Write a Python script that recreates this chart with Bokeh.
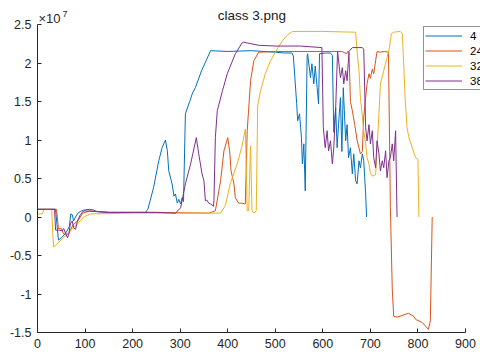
from bokeh.plotting import figure
from bokeh.models import Range1d, FixedTicker, Legend, LegendItem, Label
from bokeh.embed import file_html
from bokeh.resources import INLINE

# values in units of 1e7
s4_x = [0, 38, 41, 44, 50, 58, 63, 67, 70, 73, 76, 80, 85, 90, 97, 110, 118, 125, 150, 200, 227,
        232, 244, 255, 262, 269, 273, 276, 283, 287, 290, 294, 297, 301, 304, 307, 311, 320, 326,
        332, 345, 364, 400, 450, 500, 520, 535, 538, 545, 547, 551, 555, 557, 560, 563, 567, 568,
        574, 577, 581, 584, 588, 591, 593, 605, 616, 620, 623, 627, 630, 633, 637, 640, 643, 648,
        651, 654, 658, 662, 665, 669, 672, 676, 679, 683, 686, 690, 692]
s4_y = [0.1, 0.1, -0.1, -0.3, -0.27, -0.22, -0.17, -0.12, 0.04, 0.03, -0.05, 0.0, 0.05, 0.07, 0.09,
        0.1, 0.09, 0.07, 0.06, 0.06, 0.06, 0.1, 0.38, 0.73, 0.9, 1.0, 0.86, 0.6, 0.43, 0.27, 0.3,
        0.18, 0.23, 0.17, 0.25, 0.2, 1.34, 1.5, 1.61, 1.68, 1.9, 2.16, 2.15, 2.16, 2.14, 2.13, 2.13,
        2.09, 1.47, 1.25, 1.34, 1.03, 0.69, 0.95, 0.34, 2.09, 2.12, 1.81, 1.99, 1.73, 1.96, 1.68,
        1.47, 2.12, 2.13, 2.13, 2.1, 1.1, 1.42, 0.9, 1.2, 1.55, 0.85, 1.68, 0.99, 1.2, 0.77, 0.9,
        0.56, 0.82, 0.47, 0.43, 0.73, 0.64, 0.82, 0.73, 0.3, 0.0]

s24_x = [0, 40, 44, 50, 55, 65, 75, 85, 95, 110, 150, 250, 360, 374, 385, 392, 400, 404, 407, 413,
         416, 423, 430, 435, 437, 441, 448, 455, 465, 500, 550, 600, 640, 650, 652, 655, 658, 662,
         667, 672, 679, 683, 686, 690, 693, 697, 700, 704, 707, 711, 714, 720, 730, 738, 742, 746,
         749, 757, 780, 791, 795, 809, 822, 826, 830]
s24_y = [0.1, 0.1, -0.15, -0.15, -0.22, -0.22, -0.1, -0.05, 0.05, 0.08, 0.06, 0.06, 0.05, 0.08,
         0.47, 0.86, 1.03, 0.86, 0.6, 0.43, 0.25, 0.18, 0.18, 0.17, 0.17, 1.12, 1.77, 2.03, 2.14,
         2.15, 2.15, 2.15, 2.15, 2.12, 2.15, 2.14, 1.5, 1.38, 1.2, 1.0, 0.82, 0.85, 1.3, 1.55, 1.73,
         1.86, 1.8, 1.92, 1.86, 2.03, 2.15, 2.14, 2.15, 2.14, 0.12, -0.94, -1.29, -1.30, -1.25,
         -1.29, -1.33, -1.37, -1.46, -1.35, 0.0]

s32_x = [0, 10, 14, 30, 32, 34, 63, 84, 97, 111, 200, 300, 385, 395, 406, 420, 430, 437, 441, 444,
         448, 451, 455, 460, 463, 469, 479, 490, 504, 515, 525, 536, 600, 669, 672, 676, 679, 686,
         690, 693, 697, 700, 704, 711, 714, 718, 721, 728, 735, 740, 744, 749, 763, 767, 770, 773,
         777, 781, 788, 795, 800, 802]
s32_y = [0.04, 0.04, 0.1, 0.1, -0.2, -0.39, -0.22, -0.09, 0.0, 0.04, 0.05, 0.05, 0.05, 0.15, 0.45,
         0.69, 0.92, 1.14, 0.08, 0.08, 0.92, 0.08, 0.05, 0.08, 1.45, 1.64, 1.86, 2.03, 2.18, 2.29,
         2.36, 2.41, 2.41, 2.4, 2.15, 1.9, 1.55, 1.12, 0.95, 0.77, 0.69, 0.57, 0.53, 0.55, 0.9, 1.34,
         1.73, 1.9, 2.07, 2.2, 2.38, 2.4, 2.41, 2.38, 1.99, 1.55, 1.16, 1.03, 0.9, 0.77, 0.75, 0.0]

s38_x = [0, 36, 38, 45, 52, 55, 63, 66, 69, 73, 76, 80, 84, 90, 97, 150, 250, 290, 301, 311, 322,
         334, 339, 346, 350, 353, 356, 360, 364, 370, 371, 374, 378, 389, 399, 416, 430, 433, 465,
         500, 553, 598, 601, 605, 609, 612, 616, 620, 623, 627, 631, 637, 641, 644, 648, 651, 655,
         662, 683, 686, 690, 693, 697, 700, 704, 707, 711, 714, 718, 721, 725, 728, 732, 735, 739,
         742, 746, 749, 753, 756]
s38_y = [0.1, 0.1, -0.17, -0.17, -0.18, -0.15, -0.27, -0.22, -0.09, -0.05, -0.14, -0.16, -0.05,
         0.03, 0.08, 0.06, 0.06, 0.05, 0.12, 0.43, 0.69, 1.03, 0.82, 0.56, 0.47, 0.21, 0.22, 0.18,
         0.17, 0.14, 0.21, 1.03, 1.38, 1.64, 1.86, 2.12, 2.26, 2.27, 2.23, 2.22, 2.22, 2.2, 1.16,
         0.9, 1.12, 0.86, 0.99, 0.69, 0.9, 1.42, 2.15, 1.81, 1.94, 1.73, 1.9, 1.77, 2.15, 2.2, 2.2,
         2.18, 1.16, 0.99, 1.2, 0.95, 1.12, 0.77, 0.64, 0.99, 0.82, 0.6, 0.73, 0.64, 0.86, 0.51,
         0.73, 0.77, 0.95, 0.73, 1.12, 0.0]

series_names = ["4", "24", "32", "38"]
series_colors = ["#0072BD", "#D95319", "#EDB120", "#7E2F8E"]

x_ticks = [0, 100, 200, 300, 400, 500, 600, 700, 800, 900]
y_ticks = [-1.5, -1, -0.5, 0, 0.5, 1, 1.5, 2, 2.5]
y_tick_labels = ["-1.5", "-1", "-0.5", "0", "0.5", "1", "1.5", "2", "2.5"]

title_text = "class 3.png"
exp_base = "\u00d710"
exp_power = "7"

FONT = "Liberation Sans"
AX = "#262626"

# axes drawn over 0..900 and -1.5..2.5; the frame extends a little further so that
# the title, exponent and legend (which overflows the window) can sit inside it
p = figure(width=480, height=361, output_backend="svg", toolbar_location=None,
           x_range=Range1d(0, 931.5), y_range=Range1d(-1.5, 2.8117),
           min_border_left=37, min_border_right=0, min_border_top=0, min_border_bottom=29)
p.outline_line_color = None
p.xgrid.visible = False
p.ygrid.visible = False
p.background_fill_color = "white"
p.border_fill_color = "white"

for ax in (p.xaxis[0], p.yaxis[0]):
    ax.axis_line_color = AX
    ax.major_tick_line_color = AX
    ax.major_tick_in = 4
    ax.major_tick_out = 0
    ax.minor_tick_line_color = None
    ax.major_label_text_font = FONT
    ax.major_label_text_font_size = "12.5px"
    ax.major_label_text_color = AX
    ax.major_label_standoff = 6

p.xaxis.ticker = FixedTicker(ticks=x_ticks)
p.yaxis.ticker = FixedTicker(ticks=y_ticks)
p.xaxis.bounds = (0, 900)
p.yaxis.bounds = (-1.5, 2.5)
p.yaxis.major_label_overrides = {t: l for t, l in zip(y_ticks, y_tick_labels)}

xs = [s4_x, s24_x, s32_x, s38_x]
ys = [s4_y, s24_y, s32_y, s38_y]
items = []
for name, col, x, y in zip(series_names, series_colors, xs, ys):
    r = p.line(x, y, line_color=col, line_width=1)
    items.append(LegendItem(label=name, renderers=[r]))

legend = Legend(items=items, location=(386, 242), padding=1, spacing=0,
                glyph_width=37, glyph_height=15, label_height=15, label_standoff=8,
                label_text_font=FONT, label_text_font_size="11.5px", label_text_color="black",
                border_line_color=AX, border_line_width=1, background_fill_color="white",
                background_fill_alpha=1, margin=0)
p.add_layout(legend, "center")

p.add_layout(Label(x=451, y=2.623, text=title_text, text_align="center", text_baseline="middle",
                   text_font=FONT, text_font_size="13.5px", text_color="#1a1a1a"))
p.add_layout(Label(x=2, y=2.584, text=exp_base, text_align="left", text_baseline="middle",
                   text_font=FONT, text_font_size="13px", text_color=AX))
p.add_layout(Label(x=52.5, y=2.636, text=exp_power, text_align="left", text_baseline="middle",
                   text_font=FONT, text_font_size="9px", text_color=AX))

open("out.html", "w").write(file_html(p, INLINE))
